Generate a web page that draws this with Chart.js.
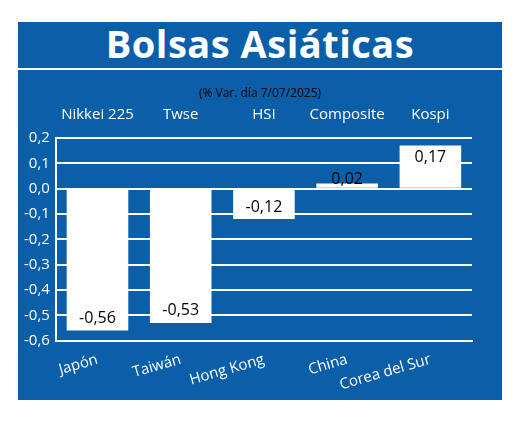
<!DOCTYPE html><html><head><meta charset="utf-8"><script src="https://cdn.jsdelivr.net/npm/chart.js@4"></script>
<style>body{margin:0;background:#fff}#p{position:absolute;left:18px;top:22px;width:484px;height:378px;background:#0b5ea8}
h1{position:absolute;left:18px;top:20px;width:484px;margin:0;height:46px;text-align:center;color:#fff;font:bold 38px 'Open Sans',sans-serif;line-height:46px;letter-spacing:0.5px}
#l{position:absolute;left:18px;top:68px;width:484px;border-top:2px solid #fff}
#w{position:absolute;left:18px;top:100px;width:484px;height:300px}</style></head><body>
<div id="p"></div><h1>Bolsas Asiáticas</h1><div id="l"></div><div id="w"><canvas id="c"></canvas></div>
<div id="s" style="position:absolute;left:18px;top:84px;width:484px;text-align:center;color:#000;font:12px 'Liberation Sans Narrow','Open Sans',sans-serif"></div>
<script>
const countries=["Japón","Taiwán","Hong Kong","China","Corea del Sur"];
const indices=["Nikkei 225","Twse","HSI","Composite","Kospi"];
const values=[-0.56,-0.53,-0.12,0.02,0.17];
const subtitle="(% Var. día 7/07/2025)";
document.getElementById('s').textContent=subtitle;
const F="'Liberation Sans Narrow','Open Sans',sans-serif";
const lbl={id:'lbl',afterDatasetsDraw(c){const x=c.ctx,m=c.getDatasetMeta(0);x.save();x.fillStyle='#000';x.font='16px '+F;x.textAlign='center';x.textBaseline='middle';
m.data.forEach((b,i)=>{const v=values[i];const t=v.toFixed(2).replace('.',',');let y=v<0?b.y-12:b.y+12;if(Math.abs(v)<0.05)y=b.y-4;x.fillText(t,b.x,y);});x.restore();}};
new Chart(document.getElementById('c'),{type:'bar',data:{labels:countries,datasets:[{data:values,backgroundColor:'#fff',categoryPercentage:1,barPercentage:0.74}]},
options:{responsive:true,maintainAspectRatio:false,animation:false,layout:{padding:{left:0,right:30,top:0,bottom:4}},plugins:{legend:{display:false},tooltip:{enabled:false}},
scales:{x:{grid:{display:false},border:{color:'#fff',width:2},ticks:{color:'#fff',font:{size:15,family:F},padding:2}},
x2:{position:'top',labels:indices,grid:{display:false},border:{display:false},ticks:{color:'#fff',font:{size:15,family:F},padding:6}},
y:{min:-0.6,max:0.2,ticks:{stepSize:0.1,color:'#fff',font:{size:15,family:F},padding:6,callback:v=>v.toFixed(1).replace('.',',').replace('-0,0','0,0')},grid:{color:'#fff',lineWidth:2,tickLength:0},border:{color:'#fff',width:2}}}},plugins:[lbl]});
</script></body></html>
